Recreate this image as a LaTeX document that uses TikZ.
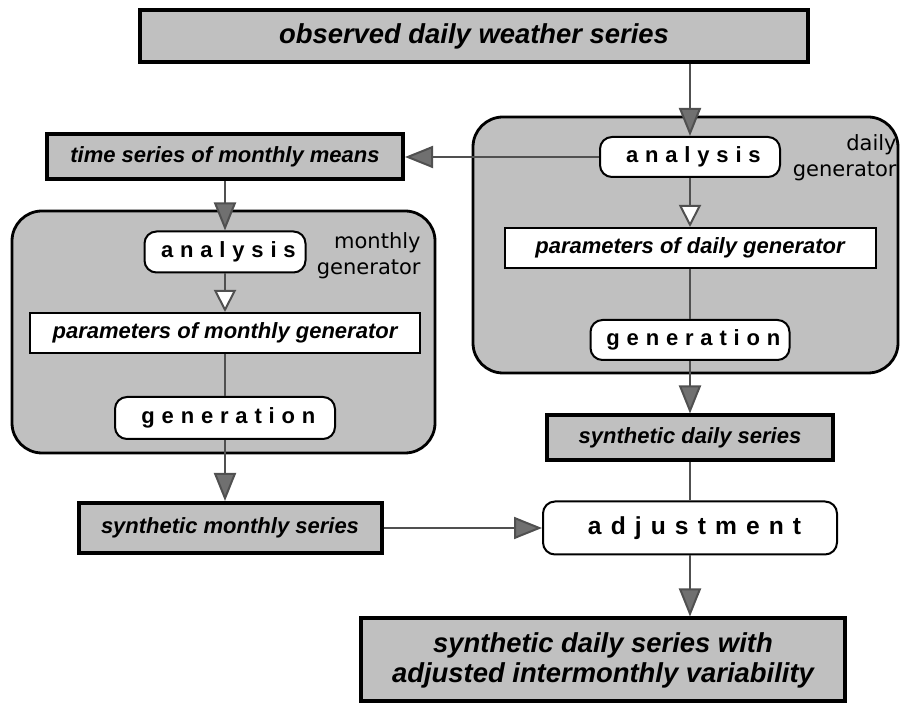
\documentclass[tikz,border=0pt]{standalone}
\usepackage{fontspec}
\setmainfont{Liberation Sans}
\newfontfamily\spacedfont[LetterSpace=31]{Liberation Sans}
\newfontfamily\widefont[LetterSpace=37]{Liberation Sans}
\newfontfamily\labelfont{DejaVu Sans}
\usepackage{tikz}
\usetikzlibrary{arrows.meta,positioning}
\definecolor{boxgray}{RGB}{192,192,192}
\definecolor{arrowgray}{RGB}{112,112,112}
\definecolor{linegray}{RGB}{80,80,80}
\newcommand{\spaced}[1]{#1\kern-0.31em}
\newcommand{\wide}[1]{#1\kern-0.37em}
\tikzstyle{graybox}=[draw=black, line width=2pt, fill=boxgray, inner sep=0pt, font=\bfseries\itshape\fontsize{11}{13}\selectfont]
\tikzstyle{whitebox}=[draw=black, line width=1pt, fill=white, inner sep=0pt, font=\bfseries\itshape\fontsize{11}{13}\selectfont]
\tikzstyle{stepnode}=[whitebox, rounded corners=6pt, font=\spacedfont\bfseries\fontsize{11}{13}\selectfont]
\tikzstyle{frame}=[draw=black, line width=1.4pt, fill=boxgray, rounded corners=15pt]
\tikzstyle{framelabel}=[anchor=east, align=right, inner sep=0pt, font=\labelfont\fontsize{10.5}{13}\selectfont]
\tikzstyle{arr}=[draw=linegray, line width=1pt, -{Triangle[width=11pt,length=14pt,fill=arrowgray]}]
\tikzstyle{openarr}=[draw=linegray, line width=1pt, -{Triangle[width=11pt,length=11pt,fill=white]}]
\tikzstyle{link}=[draw=linegray, line width=1pt]

\begin{document}
\begin{tikzpicture}[x=0.5pt,y=-0.5pt]
\useasboundingbox (0,0) rectangle (900,704);
% generator frames
\node[frame, minimum width=211.5pt, minimum height=121pt] (mframe) at (223.5,332) {};
\node[frame, minimum width=212.5pt, minimum height=128pt] (dframe) at (685.5,245) {};
\node[framelabel] (mlabel) at (421,256) {monthly\\generator};
\node[framelabel] (dlabel) at (897,158) {daily\\generator};
% series
\node[graybox, minimum width=334pt, minimum height=26pt, font=\bfseries\itshape\fontsize{13.7}{15}\selectfont] (obs) at (474,36) {observed daily weather series};
\node[graybox, minimum width=178pt, minimum height=22.5pt] (ts) at (225,157) {time series of monthly means};
\node[graybox, minimum width=151.5pt, minimum height=25pt] (sm) at (230,528) {synthetic monthly series};
\node[graybox, minimum width=143pt, minimum height=22.5pt] (sd) at (690,438) {synthetic daily series};
\node[graybox, minimum width=242pt, minimum height=41.5pt, align=center, font=\bfseries\itshape\fontsize{13.7}{15}\selectfont] (out) at (603,660) {synthetic daily series with\\adjusted intermonthly variability};
% monthly generator
\node[stepnode, minimum width=80.5pt, minimum height=20.5pt] (mana) at (225,252) {\spaced{analysis}};
\node[whitebox, minimum width=195pt, minimum height=20pt] (mpar) at (225,333) {parameters of monthly generator};
\node[stepnode, minimum width=110pt, minimum height=21pt] (mgen) at (225,418) {\spaced{generation}};
% daily generator
\node[stepnode, minimum width=90pt, minimum height=20pt] (dana) at (690,157) {\spaced{analysis}};
\node[whitebox, minimum width=185.5pt, minimum height=20pt] (dpar) at (690,248) {parameters of daily generator};
\node[stepnode, minimum width=99.5pt, minimum height=20pt] (dgen) at (690,340) {\spaced{generation}};
\node[stepnode, minimum width=147pt, minimum height=26.5pt, font=\widefont\bfseries\fontsize{12.3}{14}\selectfont] (adj) at (690,528) {\wide{adjustment}};
% connectors
\draw[arr] (obs.south -| dana) -- (dana);
\draw[arr] (dana) -- (ts);
\draw[arr] (ts) -- (mana);
\draw[openarr] (mana) -- (mpar);
\draw[link] (mpar) -- (mgen);
\draw[arr] (mgen) -- (mgen |- sm.north);
\draw[openarr] (dana) -- (dpar);
\draw[link] (dpar) -- (dgen);
\draw[arr] (dgen) -- (sd);
\draw[link] (sd) -- (adj);
\draw[arr] (sm) -- (adj);
\draw[arr] (adj) -- (adj |- out.north);
\end{tikzpicture}
\end{document}
